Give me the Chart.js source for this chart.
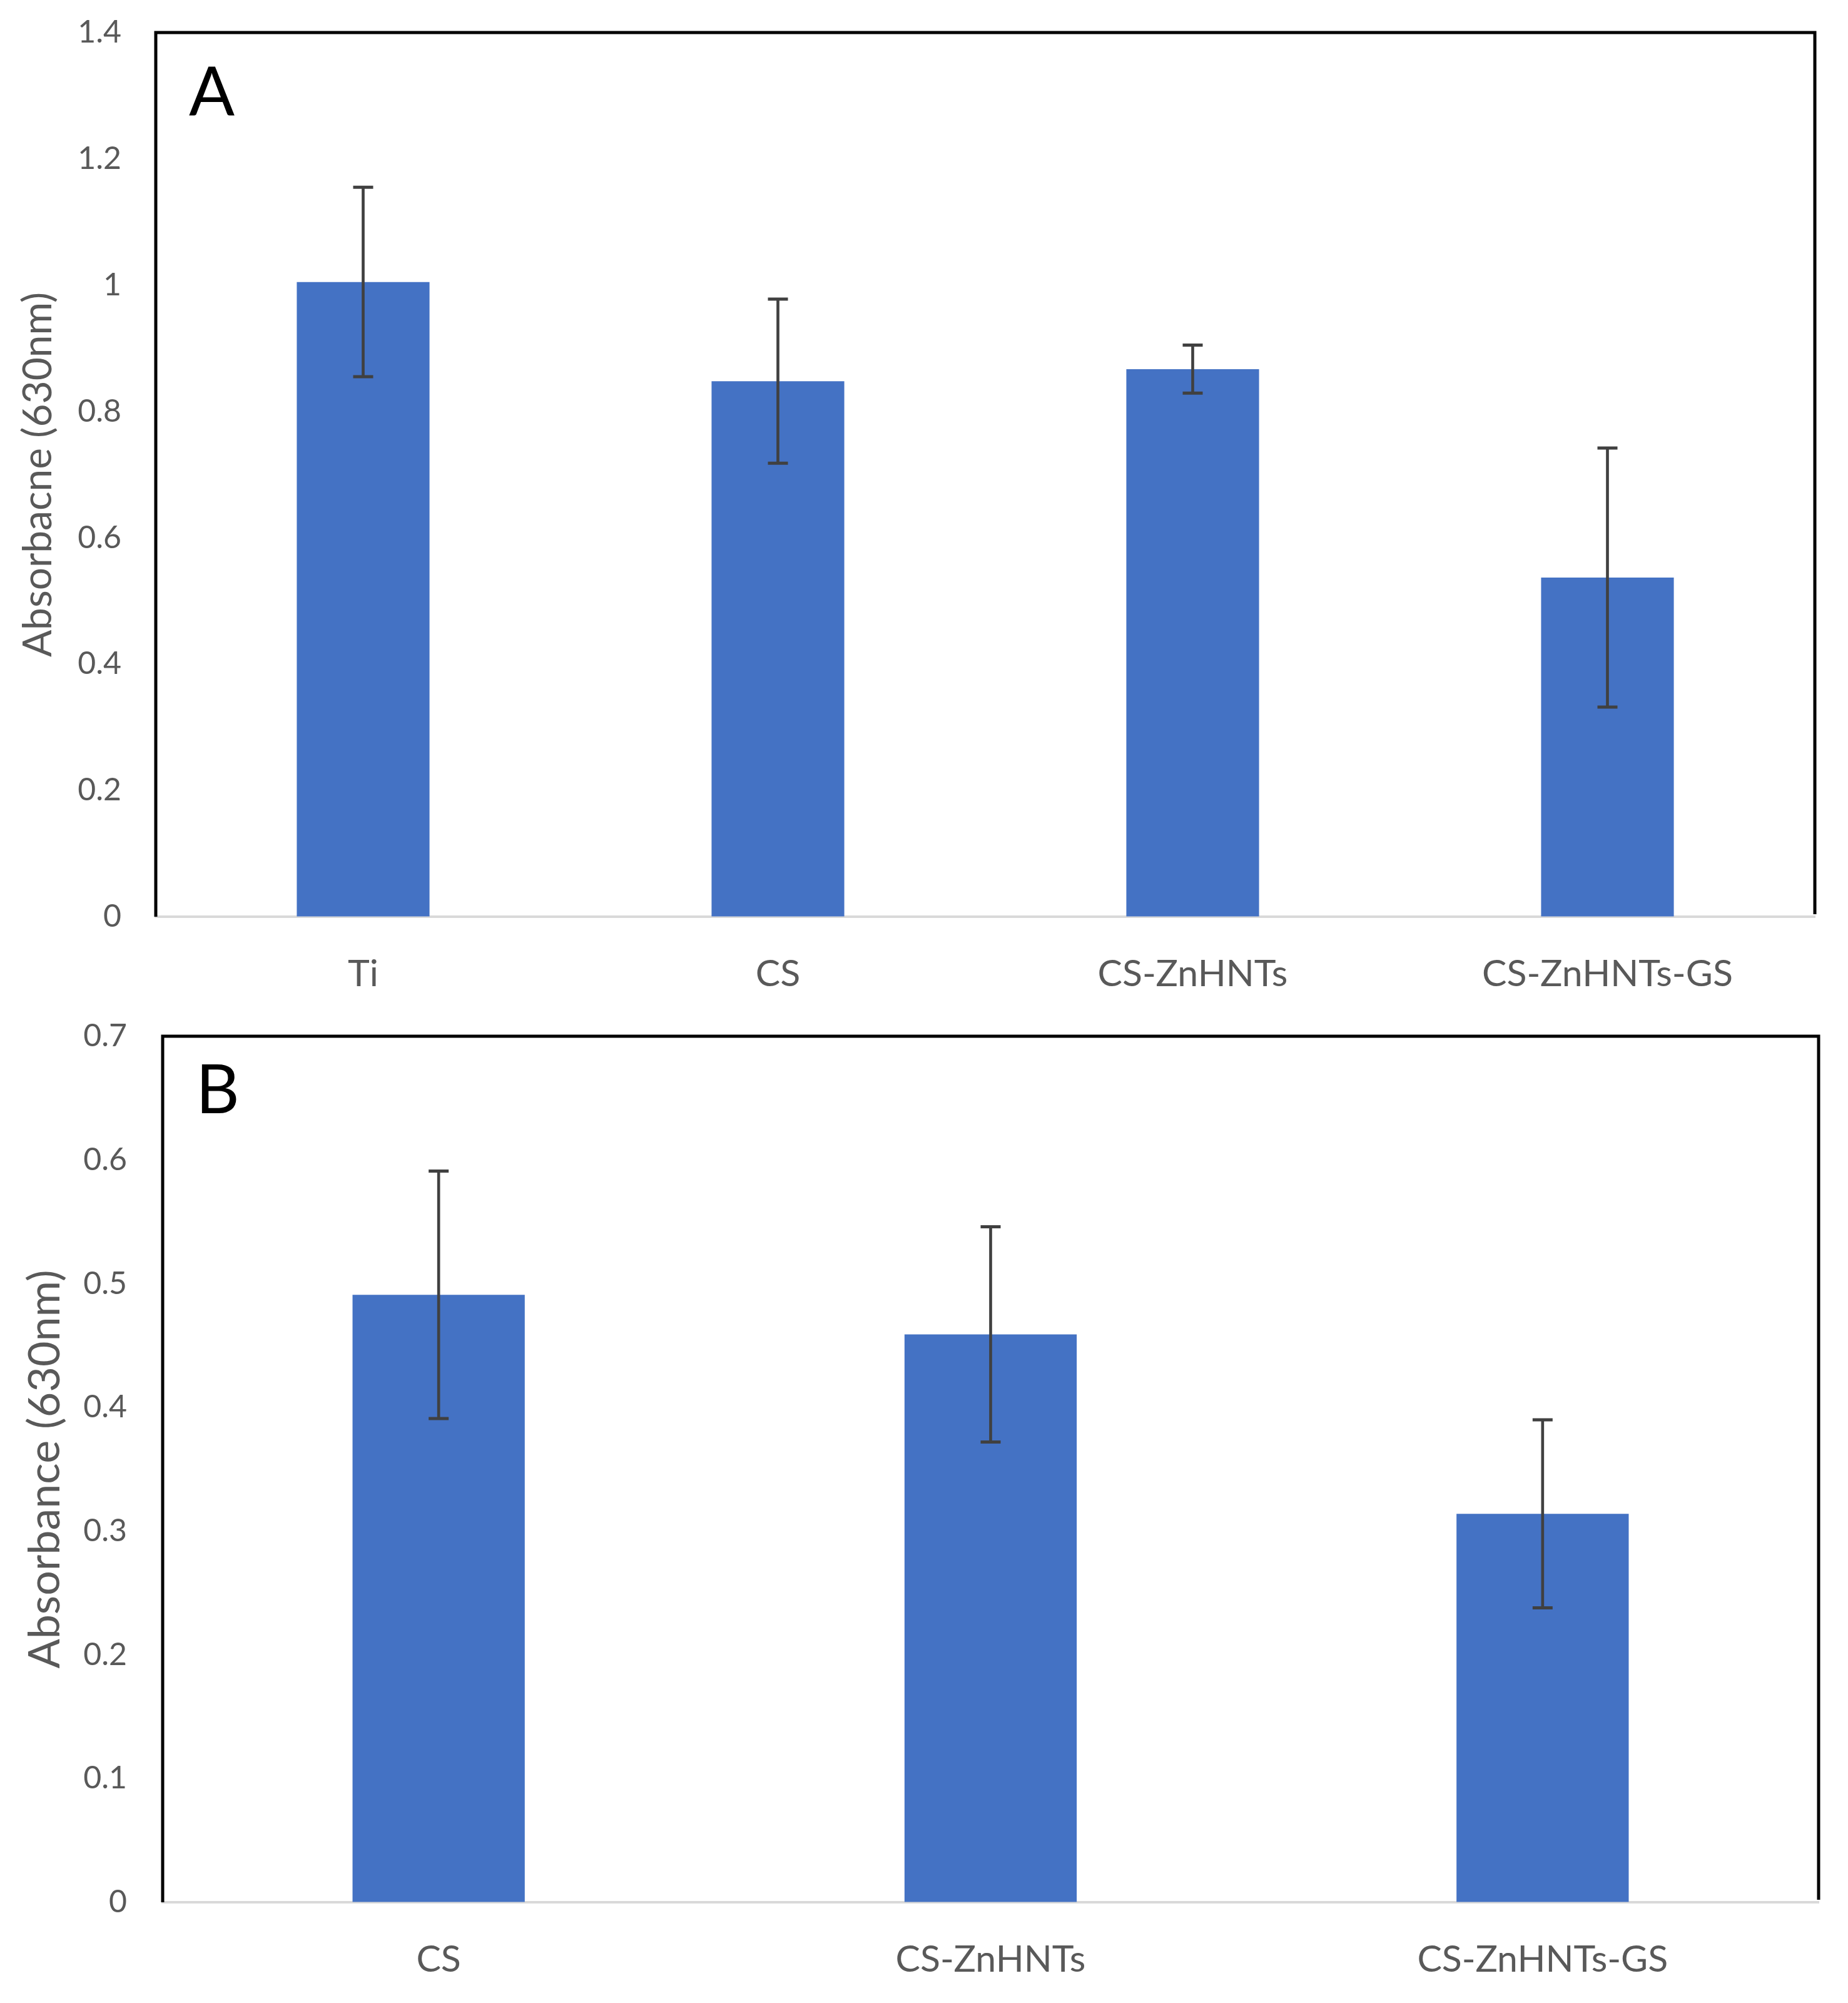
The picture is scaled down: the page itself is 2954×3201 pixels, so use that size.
<!DOCTYPE html>
<html>
<head>
<meta charset="utf-8">
<script src="https://cdn.jsdelivr.net/npm/chart.js@4.4.1/dist/chart.umd.min.js"></script>
<style>
  html, body { margin: 0; padding: 0; background: #fff; }
  canvas { position: absolute; left: 0; }
  #chartA { top: 0; }
  #chartB { top: 1610px; }
</style>
</head>
<body>
<canvas id="chartA" width="2954" height="1610"></canvas>
<canvas id="chartB" width="2954" height="1591"></canvas>
<script>
// Panel A: four surfaces
const labelsA = ['Ti', 'CS', 'CS-ZnHNTs', 'CS-ZnHNTs-GS'];
const meansA = [1.005, 0.848, 0.867, 0.537];
const errA = [0.150, 0.130, 0.038, 0.205];
const ticksA = ['0', '0.2', '0.4', '0.6', '0.8', '1', '1.2', '1.4'];

// Panel B: three coatings
const labelsB = ['CS', 'CS-ZnHNTs', 'CS-ZnHNTs-GS'];
const meansB = [0.491, 0.459, 0.314];
const errB = [0.100, 0.087, 0.076];
const ticksB = ['0', '0.1', '0.2', '0.3', '0.4', '0.5', '0.6', '0.7'];

const FONT = 'Lato';
const GREY_TEXT = '#595959';
const BAR_BLUE = '#4472C4';
const ERR_GREY = '#404040';

// black frame (left, top, right) and the panel letter
const framePlugin = {
    id: 'frame',
    afterDraw(chart, args, opts) {
        const { ctx, chartArea: a } = chart;
        ctx.save();
        ctx.strokeStyle = '#000';
        ctx.lineWidth = 5;
        ctx.beginPath();
        ctx.moveTo(a.left, a.bottom);
        ctx.lineTo(a.left, a.top);
        ctx.lineTo(a.right, a.top);
        ctx.lineTo(a.right, a.bottom - 4);
        ctx.stroke();
        ctx.fillStyle = '#000';
        ctx.font = '108px ' + FONT;
        ctx.textBaseline = 'top';
        ctx.fillText(opts.letter, a.left + 53, a.top + opts.dy);
        ctx.restore();
    }
};

function makeChart(id, cfg) {
    const lows = cfg.means.map((m, i) => m - cfg.errs[i]);
    const highs = cfg.means.map((m, i) => m + cfg.errs[i]);
    const whiskers = lows.map((lo, i) => [lo, highs[i]]);

    const capStyle = {
        type: 'line',
        showLine: false,
        pointStyle: 'line',
        pointRadius: 16,
        pointHoverRadius: 16,
        pointBorderWidth: 5,
        borderColor: ERR_GREY,
        order: 0
    };

    return new Chart(document.getElementById(id), {
        data: {
            labels: cfg.labels,
            datasets: [
                { ...capStyle, data: highs },
                { ...capStyle, data: lows },
                {
                    type: 'bar',
                    data: whiskers,
                    backgroundColor: ERR_GREY,
                    barThickness: 4,
                    grouped: false,
                    order: 1
                },
                {
                    type: 'bar',
                    data: cfg.means,
                    backgroundColor: BAR_BLUE,
                    barPercentage: cfg.barPct,
                    categoryPercentage: 1,
                    grouped: false,
                    order: 2
                }
            ]
        },
        options: {
            responsive: false,
            devicePixelRatio: 1,
            animation: false,
            layout: {
                autoPadding: false,
                padding: { top: cfg.padTop, right: cfg.padRight, left: 0, bottom: 0 }
            },
            plugins: {
                legend: { display: false },
                tooltip: { enabled: false },
                frame: { letter: cfg.letter, dy: cfg.letterDy }
            },
            scales: {
                x: {
                    grid: { display: false, drawTicks: false },
                    border: { color: '#d9d9d9', width: 4 },
                    ticks: {
                        color: GREY_TEXT,
                        font: { family: FONT, size: 59 },
                        padding: 57,
                        maxRotation: 0,
                        autoSkip: false
                    },
                    afterFit(scale) { scale.height = cfg.xHeight; }
                },
                y: {
                    min: 0,
                    max: cfg.max,
                    // invisible tick marks give the gap between labels and frame
                    grid: {
                        display: true,
                        drawOnChartArea: false,
                        drawTicks: true,
                        tickLength: cfg.tickPad,
                        tickColor: 'rgba(0,0,0,0)'
                    },
                    border: { display: false },
                    ticks: {
                        stepSize: cfg.step,
                        color: GREY_TEXT,
                        font: { family: FONT, size: 50 },
                        padding: 0,
                        callback: (v, i) => cfg.ticks[i]
                    },
                    title: {
                        display: true,
                        text: cfg.yTitle,
                        color: GREY_TEXT,
                        font: { family: FONT, size: cfg.titleSize },
                        padding: { top: cfg.titlePad, bottom: 0 }
                    },
                    afterFit(scale) { scale.width = cfg.yWidth; }
                }
            }
        },
        plugins: [framePlugin]
    });
}

makeChart('chartA', {
    labels: labelsA, means: meansA, errs: errA, ticks: ticksA,
    max: 1.4, step: 0.2, barPct: 0.32, letter: 'A', letterDy: 43,
    yTitle: 'Absorbacne (630nm)', titleSize: 64, titlePad: 23,
    yWidth: 249, xHeight: 145, padTop: 52, padRight: 53, tickPad: 55
});

makeChart('chartB', {
    labels: labelsB, means: meansB, errs: errB, ticks: ticksB,
    max: 0.7, step: 0.1, barPct: 0.312, letter: 'B', letterDy: 34,
    yTitle: 'Absorbance (630nm)', titleSize: 70, titlePad: 30,
    yWidth: 260, xHeight: 161, padTop: 46, padRight: 47, tickPad: 57
});
</script>
</body>
</html>
